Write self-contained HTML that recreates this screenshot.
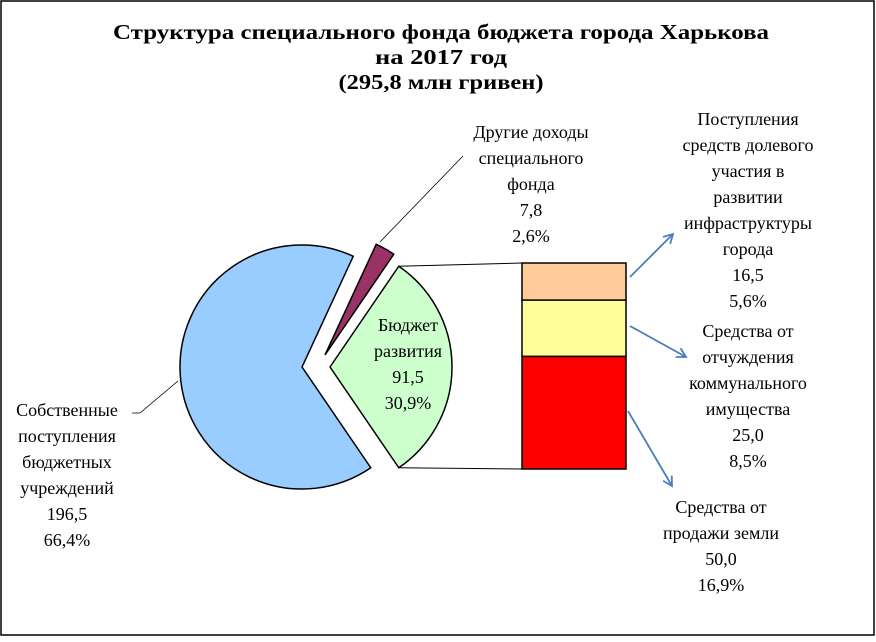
<!DOCTYPE html>
<html><head><meta charset="utf-8"><style>
html,body{margin:0;padding:0;background:#fff}
svg text{font-family:"Liberation Serif",serif;fill:#000}
</style></head><body>
<svg width="876" height="637" viewBox="0 0 876 637">
<defs><marker id="ah" markerWidth="12" markerHeight="12" refX="10" refY="6" orient="auto" markerUnits="userSpaceOnUse"><path d="M1,1 L10,6 L1,11" fill="none" stroke="#4a7ebb" stroke-width="1.8"/></marker></defs>
<rect x="1" y="1" width="873" height="634" fill="#fff" stroke="#000" stroke-width="1.5"/>
<g font-weight="bold" font-size="21" text-anchor="middle">
<text x="441" y="39" textLength="656" lengthAdjust="spacingAndGlyphs" style="font-weight:bold">Структура  специального  фонда бюджета города  Харькова</text>
<text x="441" y="64" style="font-weight:bold" textLength="132" lengthAdjust="spacingAndGlyphs">на 2017 год</text>
<text x="441" y="89" style="font-weight:bold" textLength="205" lengthAdjust="spacingAndGlyphs">(295,8 млн гривен)</text>
</g>
<g id="pie"></g>
<g id="bar"></g>
<g id="labels" font-size="18" text-anchor="middle"></g>
</svg>
<script>
const pieNames=["Бюджет развития","Другие доходы специального фонда","Собственные поступления бюджетных учреждений"];
const pieValues=[91.5,7.8,196.5];
const barNames=["Поступления средств долевого участия в развитии инфраструктуры города","Средства от отчуждения коммунального имущества","Средства от продажи земли"];
const barValues=[16.5,25.0,50.0];
const pieColors=["#ccffcc","#993366","#99ccff"];
const barColors=["#ffcc99","#ffff99","#ff0000"];
const NS="http://www.w3.org/2000/svg";
function mk(t,a,p){const e=document.createElementNS(NS,t);for(const k in a)e.setAttribute(k,a[k]);p.appendChild(e);return e;}
const pie=document.getElementById('pie');
const total=pieValues.reduce((a,b)=>a+b,0);
const R=122;
const centers=[[330,367],[325,355],[302,367]];
let start=-pieValues[0]/total*Math.PI; // green centered on 0
const angles=[];
pieValues.forEach((v,i)=>{
 const sweep=v/total*2*Math.PI;
 // draw counterclockwise order: green from -a/2 to a/2; others go backwards (counterclockwise)
 let a0,a1;
 if(i===0){a0=-sweep/2;a1=sweep/2;start=a0;}
 else{a1=start;a0=start-sweep;start=a0;}
 angles.push([a0,a1]);
 const [cx,cy]=centers[i];
 const x0=cx+R*Math.cos(a0),y0=cy+R*Math.sin(a0),x1=cx+R*Math.cos(a1),y1=cy+R*Math.sin(a1);
 const large=sweep>Math.PI?1:0;
 const p=mk('path',{d:`M${cx},${cy} L${x0},${y0} A${R},${R} 0 ${large} 1 ${x1},${y1} Z`,fill:pieColors[i],stroke:'#000','stroke-width':1.5},pie);
 
 
});
// bar
const bar=document.getElementById('bar');
const bx=522,bw=104,btop=263,bh=206;
const btot=barValues.reduce((a,b)=>a+b,0);
let y=btop;
barValues.forEach((v,i)=>{
 const h=v/btot*bh;
 const r=mk('rect',{x:bx,y:y,width:bw,height:h,fill:barColors[i],stroke:'#000','stroke-width':1.5},bar);
 
 
 y+=h;
});
// connectors from green slice
const g=centers[0],ga=angles[0];
const c1=mk('line',{x1:g[0]+R*Math.cos(ga[0]),y1:g[1]+R*Math.sin(ga[0]),x2:bx,y2:btop,stroke:'#000','stroke-width':1},bar);


const c2=mk('line',{x1:g[0]+R*Math.cos(ga[1]),y1:g[1]+R*Math.sin(ga[1]),x2:bx,y2:btop+bh,stroke:'#000','stroke-width':1},bar);


// arrows
const arrows=[[630,277,673,234],[630,326,686,357],[628,411,672,486]];
arrows.forEach((a,i)=>{
 const l=mk('line',{x1:a[0],y1:a[1],x2:a[2],y2:a[3],stroke:'#4a7ebb','stroke-width':1.8,'marker-end':'url(#ah)'},bar);
 
 
});
// leader lines
const l1=mk('polyline',{points:'132,413 140,413 178,381',fill:'none',stroke:'#000','stroke-width':0.8},bar);


const l2=mk('line',{x1:380,y1:242,x2:463,y2:156,stroke:'#000','stroke-width':0.8},bar);


// labels
const labels=document.getElementById('labels');
function fmt(v){return v.toFixed(1).replace('.',',');}
function pct(v){return (v/total*100).toFixed(1).replace('.',',')+'%';}
const blocks=[
 {x:67,y:416,lines:["Собственные","поступления","бюджетных","учреждений",fmt(pieValues[2]),pct(pieValues[2])],n:'label-own-revenue'},
 {x:531,y:138,lines:["Другие доходы","специального","фонда",fmt(pieValues[1]),pct(pieValues[1])],n:'label-other-income'},
 {x:408,y:331,lines:["Бюджет","развития",fmt(pieValues[0]),pct(pieValues[0])],n:'label-development-budget'},
 {x:748,y:125,lines:["Поступления","средств долевого","участия в","развитии","инфраструктуры","города",fmt(barValues[0]),pct(barValues[0])],n:'label-equity-participation'},
 {x:748,y:337,lines:["Средства от","отчуждения","коммунального","имущества",fmt(barValues[1]),pct(barValues[1])],n:'label-property-alienation'},
 {x:721,y:513,lines:["Средства от","продажи земли",fmt(barValues[2]),pct(barValues[2])],n:'label-land-sale'}
];
blocks.forEach(b=>{
 const t=mk('text',{x:b.x,y:b.y},labels);
 
 
 b.lines.forEach((s,i)=>{const ts=mk('tspan',{x:b.x,dy:i?26:0},t);ts.textContent=s;});
});
</script>
</body></html>
